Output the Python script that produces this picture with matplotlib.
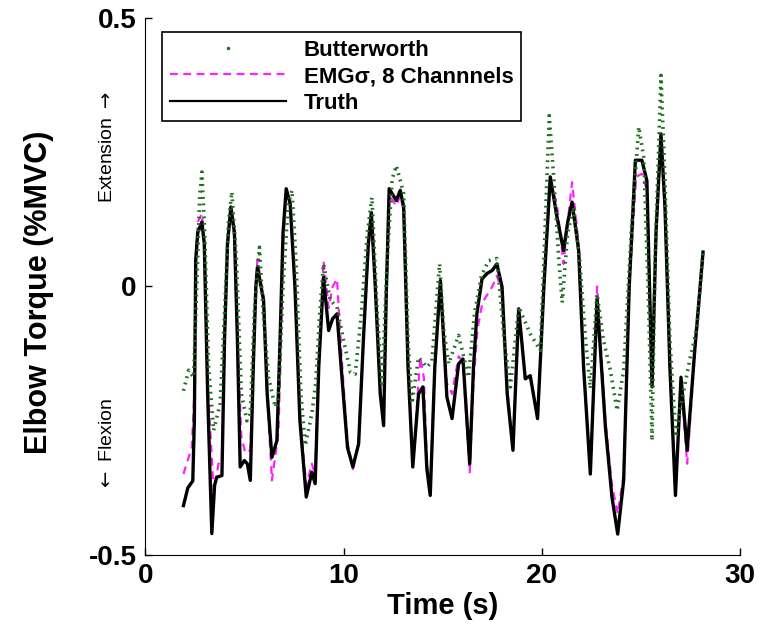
import matplotlib
matplotlib.use("Agg")
import matplotlib.pyplot as plt
from matplotlib.lines import Line2D

# Truth torque
t_truth = [1.93, 2.15, 2.40, 2.48, 2.55, 2.65, 2.86, 2.98, 3.15, 3.36, 3.50, 3.61, 3.87,
           4.00, 4.15, 4.32, 4.50, 4.65, 4.79, 5.00, 5.15, 5.30, 5.45, 5.58, 5.66, 5.97,
           6.15, 6.39, 6.64, 6.80, 6.95, 7.11, 7.31, 7.55, 7.80, 8.12, 8.40, 8.57, 8.75,
           8.99, 9.25, 9.45, 9.67, 9.90, 10.2, 10.47, 10.76, 11.0, 11.25, 11.40, 11.6,
           11.85, 12.02, 12.15, 12.30, 12.66, 12.86, 13.03, 13.25, 13.49, 13.78, 14.0,
           14.2, 14.37, 14.6, 14.88, 15.05, 15.21, 15.47, 15.8, 16.02, 16.36, 16.55,
           16.72, 16.98, 17.23, 17.5, 17.73, 17.99, 18.25, 18.54, 18.83, 19.16, 19.41,
           19.78, 20.1, 20.42, 20.76, 21.09, 21.3, 21.52, 21.85, 22.1, 22.44, 22.78,
           23.2, 23.53, 23.82, 24.12, 24.4, 24.71, 25.04, 25.29, 25.55, 25.75, 26.0,
           26.2, 26.45, 26.73, 27.01, 27.32, 27.7, 28.12]
truth = [-0.408, -0.375, -0.362, -0.25, 0.05, 0.10, 0.12, 0.08, -0.20, -0.46, -0.37, -0.355,
         -0.352, -0.10, 0.08, 0.148, 0.10, -0.10, -0.336, -0.324, -0.33, -0.361, -0.15, 0.0,
         0.036, -0.026, -0.20, -0.318, -0.287, -0.10, 0.10, 0.182, 0.154, 0.0, -0.25, -0.392,
         -0.346, -0.367, -0.15, 0.017, -0.082, -0.06, -0.051, -0.16, -0.30, -0.336, -0.293,
         -0.10, 0.08, 0.138, 0.0, -0.20, -0.259, -0.02, 0.182, 0.16, 0.179, 0.148, -0.15,
         -0.336, -0.20, -0.187, -0.34, -0.389, -0.15, 0.011, -0.10, -0.206, -0.246, -0.144,
         -0.135, -0.330, -0.15, -0.051, 0.014, 0.024, 0.03, 0.042, -0.001, -0.20, -0.305,
         -0.042, -0.172, -0.166, -0.246, 0.0, 0.204, 0.129, 0.067, 0.12, 0.157, 0.067,
         -0.15, -0.349, -0.023, -0.262, -0.392, -0.461, -0.361, 0.0, 0.235, 0.235, 0.197,
         -0.187, 0.10, 0.284, 0.15, -0.15, -0.389, -0.169, -0.305, -0.12, 0.064]

# EMG sigma estimate, 8 channels
t_emg = [1.93, 2.35, 2.48, 2.55, 2.65, 2.86, 2.98, 3.15, 3.45, 3.70, 3.87, 4.00, 4.15,
         4.32, 4.50, 4.65, 4.85, 5.05, 5.30, 5.45, 5.58, 5.66, 5.97, 6.15, 6.39, 6.72,
         6.85, 6.95, 7.11, 7.31, 7.55, 7.80, 8.12, 8.40, 8.57, 8.75, 8.99, 9.25, 9.45,
         9.67, 9.90, 10.2, 10.47, 10.76, 11.0, 11.25, 11.40, 11.6, 11.85, 12.02, 12.15,
         12.30, 12.66, 12.86, 13.03, 13.25, 13.49, 13.87, 14.05, 14.2, 14.37, 14.6,
         14.88, 15.05, 15.21, 15.47, 15.8, 16.02, 16.36, 16.55, 16.75, 17.0, 17.5, 17.73,
         17.99, 18.25, 18.54, 18.83, 19.16, 19.41, 19.78, 20.1, 20.42, 20.76, 21.09, 21.3,
         21.52, 21.85, 22.1, 22.44, 22.78, 23.2, 23.53, 23.82, 24.12, 24.4, 24.75, 25.04,
         25.29, 25.55, 25.75, 26.0, 26.2, 26.45, 26.73, 27.01, 27.32, 27.7, 28.12]
emg = [-0.349, -0.30, -0.20, 0.05, 0.12, 0.135, 0.08, -0.18, -0.38, -0.33, -0.32, -0.10,
       0.07, 0.14, 0.09, -0.10, -0.28, -0.31, -0.305, -0.15, 0.0, 0.05, -0.02, -0.20,
       -0.361, -0.271, -0.10, 0.08, 0.17, 0.15, 0.0, -0.24, -0.37, -0.33, -0.35, -0.14,
       0.048, -0.04, 0.0, 0.014, -0.13, -0.29, -0.34, -0.29, -0.10, 0.07, 0.12, 0.0,
       -0.20, -0.24, -0.03, 0.17, 0.15, 0.17, 0.14, -0.14, -0.33, -0.132, -0.17, -0.33,
       -0.38, -0.15, 0.0, -0.09, -0.18, -0.20, -0.13, -0.14, -0.346, -0.18, -0.08, -0.03,
       0.0, 0.02, -0.01, -0.19, -0.30, -0.04, -0.17, -0.17, -0.24, 0.0, 0.20, 0.151,
       0.042, 0.12, 0.194, 0.08, -0.15, -0.35, 0.0, -0.25, -0.37, -0.423, -0.35, 0.0,
       0.204, 0.21, 0.18, -0.17, 0.09, 0.27, 0.14, -0.15, -0.37, -0.18, -0.33, -0.13, 0.05]

# Butterworth filtered estimate
t_bw = [1.93, 2.19, 2.44, 2.60, 2.75, 2.86, 3.00, 3.20, 3.45, 3.78, 4.00, 4.20, 4.37,
        4.60, 4.85, 5.13, 5.30, 5.50, 5.76, 5.95, 6.22, 6.56, 6.72, 6.95, 7.20, 7.40,
        7.60, 7.85, 8.07, 8.40, 8.60, 8.80, 8.99, 9.33, 9.67, 10.0, 10.35, 10.59, 10.9,
        11.2, 11.43, 11.7, 11.94, 12.2, 12.45, 12.66, 13.03, 13.25, 13.45, 13.78, 14.2,
        14.45, 14.84, 15.05, 15.3, 15.8, 16.3, 16.6, 16.95, 17.31, 17.73, 18.1, 18.41,
        18.83, 19.41, 19.92, 20.15, 20.37, 20.6, 20.85, 21.02, 21.3, 21.6, 21.9, 22.2,
        22.44, 22.78, 23.1, 23.45, 23.79, 24.12, 24.5, 24.88, 25.13, 25.35, 25.55, 25.7,
        26.0, 26.2, 26.45, 26.75, 26.98, 27.48, 27.82, 28.12]
bw = [-0.194, -0.156, -0.169, 0.0, 0.17, 0.213, 0.10, -0.15, -0.268, -0.218, -0.05,
      0.12, 0.176, 0.05, -0.20, -0.25, -0.237, -0.05, 0.073, -0.05, -0.169, -0.225,
      -0.206, 0.0, 0.15, 0.179, 0.05, -0.20, -0.296, -0.237, -0.18, -0.05, 0.042, -0.026,
      -0.038, -0.10, -0.16, -0.163, -0.05, 0.10, 0.166, -0.05, -0.181, 0.05, 0.20, 0.225,
      0.173, -0.10, -0.218, -0.132, -0.150, -0.14, 0.042, -0.08, -0.144, -0.091, -0.169,
      -0.05, 0.02, 0.048, 0.052, -0.10, -0.187, -0.038, -0.088, -0.119, 0.10, 0.318, 0.20,
      0.05, -0.03, 0.10, 0.148, 0.05, -0.10, -0.19, -0.014, -0.10, -0.156, -0.231, -0.156,
      0.10, 0.297, 0.241, 0.0, -0.287, 0.05, 0.393, 0.20, -0.10, -0.28, -0.225, -0.132,
      -0.076, 0.064]

green = '#1f6e1f'
magenta = '#ff20ff'

plt.rcParams['font.family'] = ['Liberation Sans', 'DejaVu Sans']

fig = plt.figure(figsize=(7.64, 6.38), dpi=100)
ax = fig.add_axes([0.19, 0.13, 0.779, 0.842])

ax.plot(t_emg, emg, color=magenta, lw=1.6, ls=(0, (3.5, 2.5)), zorder=2)
ax.plot(t_truth, truth, color='black', lw=2.4, zorder=3)
ax.plot(t_bw, bw, color=green, lw=2.6, ls=(0, (0.5, 1.3)), zorder=4)

ax.set_xlim(0, 30)
ax.set_ylim(-0.5, 0.5)
ax.set_xticks([0, 10, 20, 30])
ax.set_yticks([-0.5, 0, 0.5])
ax.set_yticklabels(['-0.5', '0', '0.5'])
ax.tick_params(direction='in', length=5, width=1, labelsize=20, pad=6)
for lab in ax.get_xticklabels() + ax.get_yticklabels():
    lab.set_fontweight('bold')
ax.spines['top'].set_visible(False)
ax.spines['right'].set_visible(False)

ax.set_xlabel('Time (s)', fontsize=21, fontweight='bold', labelpad=2)
ax.text(-0.178, 0.49, 'Elbow Torque (%MVC)', transform=ax.transAxes, rotation=90,
        fontsize=22, fontweight='bold', ha='center', va='center')
ax.text(-0.064, 0.76, 'Extension $\\rightarrow$', transform=ax.transAxes, rotation=90,
        fontsize=14, ha='center', va='center')
ax.text(-0.064, 0.205, '$\\leftarrow$ Flexion', transform=ax.transAxes, rotation=90,
        fontsize=14, ha='center', va='center')

handles = [Line2D([], [], ls='none', marker='.', markersize=3, color=green),
           Line2D([], [], color=magenta, lw=1.6, ls=(0, (3.5, 2.5))),
           Line2D([], [], color='black', lw=1.6)]
labels = ['Butterworth', 'EMG\u03c3, 8 Channnels', 'Truth']
leg = ax.legend(handles, labels, loc='upper left', bbox_to_anchor=(0.029, 0.974),
                borderaxespad=0, fancybox=False, edgecolor='black', framealpha=1,
                handlelength=5.2, labelspacing=0.25, prop={'size': 16, 'weight': 'bold'},
                borderpad=0.35)
leg.get_frame().set_linewidth(1.2)

fig.savefig('out.png', dpi=100)
